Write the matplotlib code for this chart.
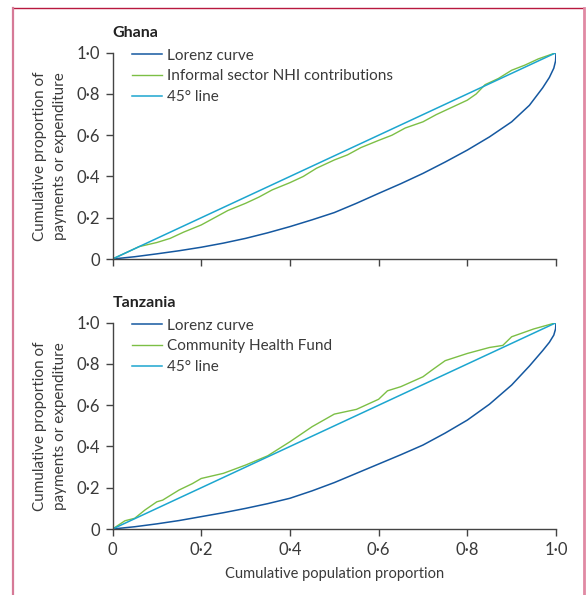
import matplotlib

matplotlib.use("Agg")
import matplotlib.pyplot as plt
from matplotlib.lines import Line2D

plt.rcParams["font.family"] = ["Lato", "DejaVu Sans"]

# values
ghana_lorenz_x = [0, 0.05, 0.1, 0.15, 0.2, 0.25, 0.3, 0.35, 0.4, 0.45, 0.5, 0.55, 0.6, 0.65, 0.7, 0.75,
                  0.8, 0.85, 0.9, 0.94, 0.97, 0.985, 0.995, 0.999, 1.0]
ghana_lorenz_y = [0, 0.011, 0.025, 0.04, 0.057, 0.077, 0.10, 0.127, 0.157, 0.19, 0.225, 0.27, 0.318, 0.365,
                  0.415, 0.47, 0.528, 0.592, 0.665, 0.745, 0.83, 0.88, 0.925, 0.96, 1.0]

ghana_nhi_x = [0, 0.03, 0.06, 0.08, 0.1, 0.13, 0.16, 0.2, 0.23, 0.26, 0.3, 0.33, 0.36, 0.4, 0.43, 0.46,
               0.5, 0.53, 0.56, 0.6, 0.63, 0.66, 0.7, 0.73, 0.76, 0.8, 0.82, 0.84, 0.87, 0.9, 0.93, 0.96, 1.0]
ghana_nhi_y = [0, 0.03, 0.06, 0.07, 0.08, 0.10, 0.13, 0.165, 0.20, 0.235, 0.27, 0.30, 0.335, 0.37, 0.40, 0.44,
               0.48, 0.505, 0.54, 0.575, 0.60, 0.635, 0.665, 0.70, 0.73, 0.77, 0.80, 0.845, 0.875, 0.915, 0.94, 0.97, 1.0]

tanz_lorenz_x = [0, 0.05, 0.1, 0.15, 0.2, 0.25, 0.3, 0.35, 0.4, 0.45, 0.5, 0.55, 0.6, 0.65, 0.7, 0.75,
                 0.8, 0.85, 0.9, 0.94, 0.97, 0.985, 0.995, 0.999, 1.0]
tanz_lorenz_y = [0, 0.011, 0.025, 0.041, 0.06, 0.079, 0.10, 0.123, 0.149, 0.185, 0.225, 0.27, 0.315, 0.36,
                 0.407, 0.465, 0.528, 0.605, 0.698, 0.79, 0.865, 0.905, 0.94, 0.97, 1.0]

tanz_chf_x = [0, 0.028, 0.05, 0.073, 0.1, 0.113, 0.15, 0.18, 0.2, 0.25, 0.27, 0.3, 0.35, 0.4, 0.45, 0.5,
              0.55, 0.6, 0.62, 0.65, 0.7, 0.72, 0.75, 0.8, 0.85, 0.88, 0.9, 0.95, 1.0]
tanz_chf_y = [0, 0.04, 0.052, 0.092, 0.132, 0.14, 0.189, 0.22, 0.245, 0.27, 0.286, 0.31, 0.355, 0.423, 0.496, 0.557,
              0.58, 0.629, 0.67, 0.69, 0.738, 0.77, 0.816, 0.851, 0.88, 0.89, 0.932, 0.97, 1.0]

diag = [0, 1]
x_ticks = [0, 0.2, 0.4, 0.6, 0.8, 1.0]
tick_labels = ["0", "0·2", "0·4", "0·6", "0·8", "1·0"]

c_lorenz = "#1558a0"
c_green = "#7cbf45"
c_diag = "#1ca6cf"
c_text = "#3a3a3a"

fig = plt.figure(figsize=(5.87, 5.95), dpi=100)

# page frame
fig.add_artist(Line2D([13 / 587, 583 / 587], [1 - 7.5 / 595] * 2, color="#b8193f", lw=1.0,
                      transform=fig.transFigure))
fig.add_artist(Line2D([12.5 / 587] * 2, [1 - 7.5 / 595, 0], color="#d67a97", lw=1.6,
                      transform=fig.transFigure))
fig.add_artist(Line2D([583.5 / 587] * 2, [1 - 7.5 / 595, 0], color="#e08aa4", lw=2.0,
                      transform=fig.transFigure))

panels = [
    ("Ghana", ghana_lorenz_x, ghana_lorenz_y, ghana_nhi_x, ghana_nhi_y,
     "Informal sector NHI contributions", 0.5647),
    ("Tanzania", tanz_lorenz_x, tanz_lorenz_y, tanz_chf_x, tanz_chf_y,
     "Community Health Fund", 0.1109),
]

for i, (name, lx, ly, gx, gy, glabel, bottom) in enumerate(panels):
    ax = fig.add_axes([0.1917, bottom, 0.7555, 0.3467])
    ax.plot(lx, ly, color=c_lorenz, lw=1.1, label="Lorenz curve")
    ax.plot(gx, gy, color=c_green, lw=1.0, label=glabel)
    ax.plot(diag, diag, color=c_diag, lw=1.1, label="45° line")
    ax.set_xlim(0, 1)
    ax.set_ylim(0, 1)
    for s in ["top", "right"]:
        ax.spines[s].set_visible(False)
    for s in ["left", "bottom"]:
        ax.spines[s].set_color("#444444")
        ax.spines[s].set_linewidth(1.0)
    ax.set_xticks(x_ticks)
    ax.set_yticks(x_ticks)
    ax.set_yticklabels(tick_labels)
    if i == 1:
        ax.set_xticklabels(tick_labels)
        ax.set_xlabel("Cumulative population proportion", fontsize=10.5, color=c_text, labelpad=7)
    else:
        ax.set_xticklabels([])
    ax.tick_params(direction="out", length=5, width=1.0, color="#444444",
                   labelsize=12, labelcolor=c_text, pad=4)
    ax.set_ylabel("Cumulative proportion of\npayments or expenditure", fontsize=11,
                  color=c_text, labelpad=7, linespacing=1.5)
    ax.text(0, 1.06, name, transform=ax.transAxes, fontsize=11.5, fontweight="bold",
            color="#222222", ha="left", va="bottom")
    ax.legend(loc="upper left", frameon=False, fontsize=11, handlelength=1.95,
              handletextpad=0.35, labelspacing=0.45, borderaxespad=0.0,
              bbox_to_anchor=(0.03, 1.05), labelcolor=c_text)

fig.savefig("out.png", dpi=100)
